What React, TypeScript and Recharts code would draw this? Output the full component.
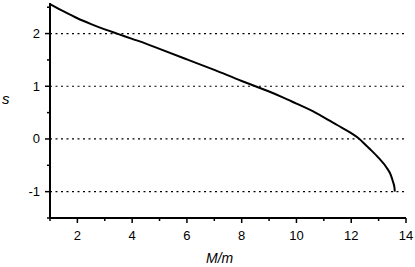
import { Line, LineChart, ReferenceLine, XAxis, YAxis } from 'recharts'

// M/m values and the matching s values
const massRatio = [1.0, 1.5, 2.0, 2.5, 3.0, 3.5, 4.0, 4.5, 5.0, 6.0, 7.0, 8.0, 8.5, 9.0, 9.5, 10.0, 10.5, 11.0, 11.5, 12.0, 12.3, 12.5, 12.7, 13.0, 13.3, 13.45, 13.53, 13.58, 13.59]
const sValues = [2.56, 2.42, 2.29, 2.18, 2.08, 1.99, 1.9, 1.81, 1.71, 1.51, 1.31, 1.1, 1.0, 0.9, 0.79, 0.67, 0.55, 0.41, 0.26, 0.11, 0.0, -0.1, -0.2, -0.36, -0.55, -0.69, -0.82, -0.93, -1.0]

const xTicks = [1, 2, 3, 4, 5, 6, 7, 8, 9, 10, 11, 12, 13, 14]
const yTicks = [-1.5, -1, -0.5, 0, 0.5, 1, 1.5, 2, 2.5]
const gridValues = [-1, 0, 1, 2]

const data = massRatio.map((m, i) => ({ m, s: sValues[i] }))

const FONT = '"Liberation Sans", Arial, sans-serif'

const BottomTick = (props: any) => {
  const { x, y, payload } = props
  const major = payload.value % 2 === 0
  return (
    <g>
      <line x1={x} y1={y} x2={x} y2={y + (major ? 5 : 3)} stroke="#000" strokeWidth={1.5} />
      {major && (
        <text x={x} y={y + 22} textAnchor="middle" fontSize={13} fontFamily={FONT} fill="#000">
          {payload.value}
        </text>
      )}
    </g>
  )
}

const LeftTick = (props: any) => {
  const { x, y, payload } = props
  const major = Number.isInteger(payload.value)
  return (
    <g>
      <line x1={x} y1={y} x2={x - (major ? 5 : 3)} y2={y} stroke="#000" strokeWidth={1.5} />
      {major && (
        <text x={x - 10} y={y + 4.5} textAnchor="end" fontSize={13} fontFamily={FONT} fill="#000">
          {payload.value}
        </text>
      )}
    </g>
  )
}

const TopTick = (props: any) => {
  const { x, y } = props
  return <line x1={x} y1={y} x2={x} y2={y + 2} stroke="#000" strokeWidth={1} />
}

const RightTick = (props: any) => {
  const { x, y } = props
  return <line x1={x} y1={y} x2={x - 2} y2={y} stroke="#000" strokeWidth={1} />
}

export default function App() {
  return (
    <div style={{ position: 'absolute', left: 0, top: 0, background: '#fff' }}>
      <LineChart width={415} height={267} data={data} margin={{ top: 3, right: 9, left: 0, bottom: 0 }}>
        <XAxis
          dataKey="m"
          type="number"
          domain={[1, 14]}
          ticks={xTicks}
          interval={0}
          allowDataOverflow
          height={49}
          tickSize={0}
          tickMargin={0}
          tickLine={false}
          tick={<BottomTick />}
          axisLine={{ stroke: '#000', strokeWidth: 2 }}
        />
        <XAxis
          xAxisId="top"
          orientation="top"
          dataKey="m"
          type="number"
          domain={[1, 14]}
          ticks={xTicks}
          interval={0}
          allowDataOverflow
          height={0}
          tickSize={0}
          tickMargin={0}
          tickLine={false}
          tick={<TopTick />}
          axisLine={{ stroke: '#000', strokeWidth: 1.2 }}
        />
        <YAxis
          type="number"
          domain={[-1.5, 2.58]}
          ticks={yTicks}
          interval={0}
          allowDataOverflow
          width={50}
          tickSize={0}
          tickMargin={0}
          tickLine={false}
          tick={<LeftTick />}
          axisLine={{ stroke: '#000', strokeWidth: 2 }}
        />
        <YAxis
          yAxisId="right"
          orientation="right"
          type="number"
          domain={[-1.5, 2.58]}
          ticks={yTicks}
          interval={0}
          allowDataOverflow
          width={0}
          tickSize={0}
          tickMargin={0}
          tickLine={false}
          tick={<RightTick />}
          axisLine={{ stroke: '#000', strokeWidth: 2 }}
        />
        {gridValues.map(v => (
          <ReferenceLine key={v} y={v} stroke="#000" strokeWidth={1.2} strokeDasharray="2 3.5" />
        ))}
        <Line
          type="monotone"
          dataKey="s"
          stroke="#000"
          strokeWidth={2}
          dot={false}
          isAnimationActive={false}
        />
      </LineChart>
      <div
        style={{
          position: 'absolute',
          left: 2,
          top: 90,
          fontFamily: FONT,
          fontStyle: 'italic',
          fontSize: 15,
        }}
      >
        s
      </div>
      <div
        style={{
          position: 'absolute',
          left: 206,
          top: 250,
          fontFamily: FONT,
          fontStyle: 'italic',
          fontSize: 14,
        }}
      >
        M/m
      </div>
    </div>
  )
}
